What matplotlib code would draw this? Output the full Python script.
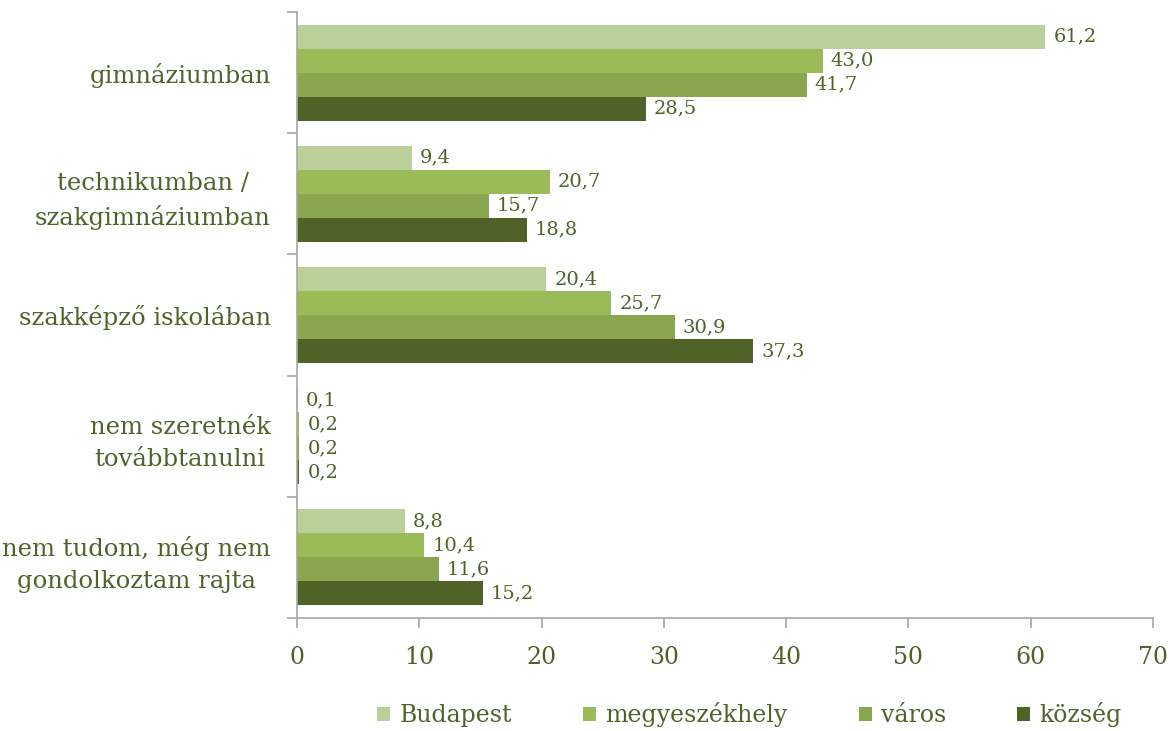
import numpy as np
import matplotlib
matplotlib.use('Agg')
from matplotlib import pyplot as plt
from matplotlib.patches import Patch

categories = ['gimnáziumban', 'technikumban /\nszakgimnáziumban', 'szakképző iskolában',
              'nem szeretnék\ntovábbtanulni', 'nem tudom, még nem\ngondolkoztam rajta']
series = ['Budapest', 'megyeszékhely', 'város', 'község']
budapest = [61.2, 9.4, 20.4, 0.1, 8.8]
megyeszekhely = [43.0, 20.7, 25.7, 0.2, 10.4]
varos = [41.7, 15.7, 30.9, 0.2, 11.6]
kozseg = [28.5, 18.8, 37.3, 0.2, 15.2]
x_ticks = [0, 10, 20, 30, 40, 50, 60, 70]

colors = ['#bbcf98', '#9bbb59', '#8aa64f', '#4f6228']
text_color = '#4f6228'
axis_color = '#a6a6a6'

plt.rcParams['font.family'] = ['DejaVu Serif']

fig = plt.figure(figsize=(11.75, 7.31), dpi=100)
ax = fig.add_axes([0.2528, 0.1546, 0.9813 - 0.2528, 0.9836 - 0.1546])

values = [budapest, megyeszekhely, varos, kozseg]
y = np.arange(len(categories))
h = 0.198
for i, (vals, name) in enumerate(zip(values, series)):
    pos = y + (i - 1.5) * h
    ax.barh(pos, vals, height=h, color=colors[i], label=name, edgecolor='none')
    for p, v in zip(pos, vals):
        ax.text(v + 0.65, p, f'{v:.1f}'.replace('.', ','), va='center', ha='left',
                fontsize=14, color=text_color)

ax.set_xlim(0, 70)
ax.set_ylim(len(categories) - 0.5, -0.5)
ax.set_xticks(x_ticks)
ax.set_yticks(y)
ax.set_yticklabels(categories, multialignment='center', linespacing=1.5)
ax.set_yticks(np.arange(len(categories) + 1) - 0.5, minor=True)

for s in ['top', 'right']:
    ax.spines[s].set_visible(False)
for s in ['left', 'bottom']:
    ax.spines[s].set_color(axis_color)
    ax.spines[s].set_linewidth(1.2)

ax.tick_params(axis='y', which='major', length=0, pad=19, labelsize=17.5, labelcolor=text_color)
ax.tick_params(axis='y', which='minor', length=7, color=axis_color, width=1.2)
ax.tick_params(axis='x', length=7, color=axis_color, width=1.2, pad=13,
               labelsize=17, labelcolor=text_color)

handles = [Patch(facecolor=c, label=n) for c, n in zip(colors, series)]
fig.legend(handles=handles, loc='center', bbox_to_anchor=(0.638, 0.022), ncol=4,
           frameon=False, fontsize=17, labelcolor=text_color, handlelength=0.55,
           handleheight=0.55, handletextpad=0.4, columnspacing=3.0)

plt.savefig('out.png', dpi=100)
